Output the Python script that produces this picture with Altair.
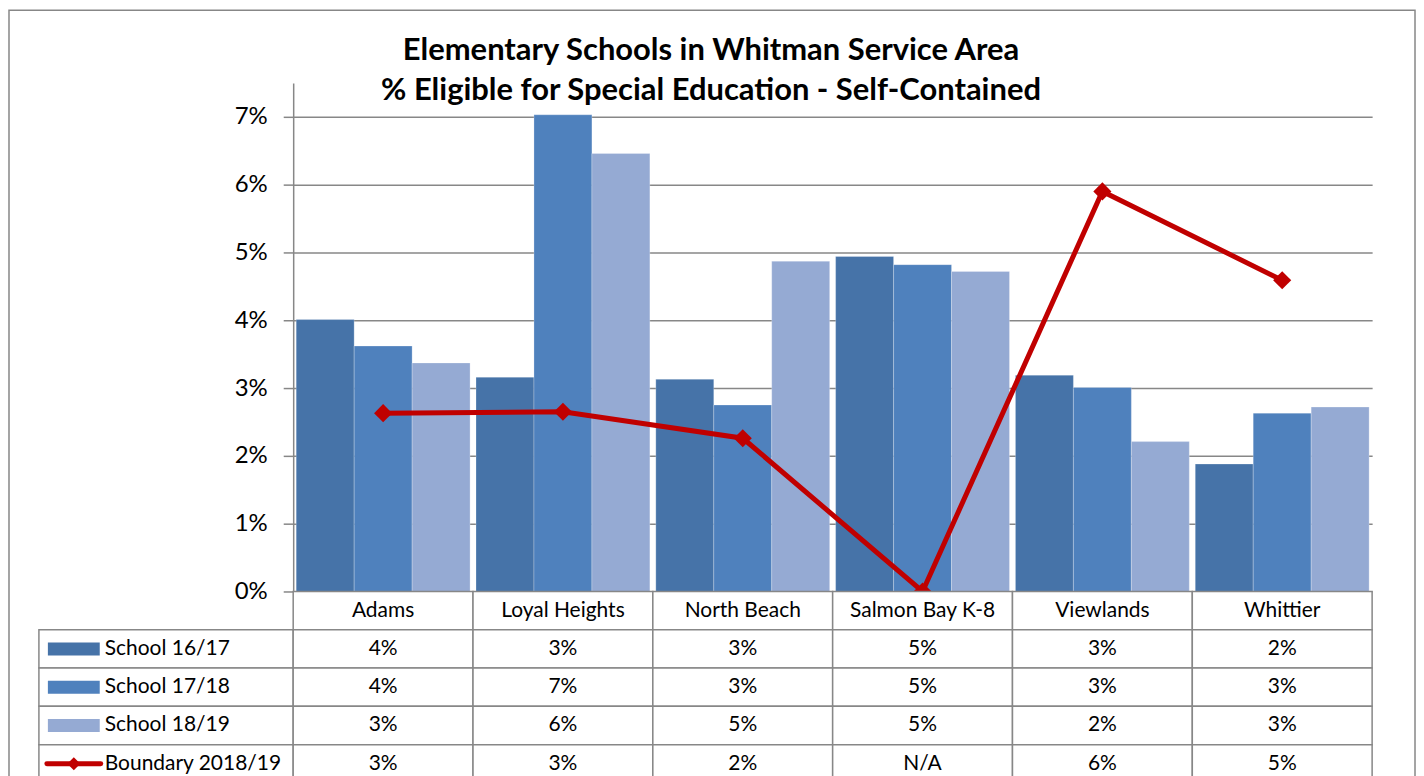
import altair as alt
import pandas as pd

# ---------------- data ----------------
schools = ["Adams", "Loyal Heights", "North Beach", "Salmon Bay K-8", "Viewlands", "Whittier"]
bar_series = ["School 16/17", "School 17/18", "School 18/19"]
line_series = "Boundary 2018/19"

school_1617 = [4.01, 3.16, 3.13, 4.94, 3.19, 1.88]
school_1718 = [3.62, 7.03, 2.75, 4.82, 3.01, 2.63]
school_1819 = [3.37, 6.46, 4.87, 4.72, 2.21, 2.72]
boundary_1819 = [2.63, 2.65, 2.26, None, 5.90, 4.59]   # Salmon Bay is N/A (drawn at 0)

y_tick_pct = [0, 1, 2, 3, 4, 5, 6, 7]
title_lines = ["Elementary Schools in Whitman Service Area",
               "% Eligible for Special Education - Self-Contained"]

bar_colors = ["#4673A8", "#4F81BD", "#95AAD3"]
line_color = "#C00000"
grey = "#878787"
FONT = "Lato"

# ---------------- tables ----------------
bar_rows = []
for s, vals in zip(bar_series, [school_1617, school_1718, school_1819]):
    for sc, v in zip(schools, vals):
        bar_rows.append({"school": sc, "series": s, "value": v / 100})
bars_df = pd.DataFrame(bar_rows)

line_df = pd.DataFrame({
    "school": schools,
    "value": [(v if v is not None else 0) / 100 for v in boundary_1819],
})

row_names = ["header"] + bar_series + [line_series]
table_rows = []
for sc in schools:
    table_rows.append({"school": sc, "row": "header", "text": sc})
for s, vals in zip(bar_series + [line_series],
                   [school_1617, school_1718, school_1819, boundary_1819]):
    for sc, v in zip(schools, vals):
        table_rows.append({"school": sc, "row": s,
                           "text": "N/A" if v is None else f"{round(v):d}%"})
table_df = pd.DataFrame(table_rows)

legend_df = pd.DataFrame({"row": bar_series + [line_series]})
legend_bar_df = pd.DataFrame({"row": bar_series})
legend_line_df = pd.DataFrame({"row": [line_series]})

PLOT_W = 1082
PLOT_H = 510
LEFT_W = 255
TABLE_H = 192

# ---------------- main plot ----------------
x_top = alt.X("school:N", sort=schools,
              scale=alt.Scale(domain=schools, paddingInner=0.033, paddingOuter=0.0167),
              axis=None)
y_top = alt.Y("value:Q",
              scale=alt.Scale(domain=[0, 0.075], nice=False, zero=True),
              axis=alt.Axis(values=[p / 100 for p in y_tick_pct], format=".0%", title=None,
                            grid=True, gridColor=grey, gridWidth=1.5,
                            domainColor=grey, domainWidth=1.5,
                            tickColor=grey, tickWidth=1.5, tickSize=10,
                            labelFont=FONT, labelFontSize=24, labelColor="#000000",
                            labelPadding=16))

bars = alt.Chart(bars_df).mark_bar(stroke="#ffffff", strokeWidth=0.5, strokeOpacity=0.5).encode(
    x=x_top,
    xOffset=alt.XOffset("series:N", sort=bar_series,
                        scale=alt.Scale(domain=bar_series, paddingInner=0, paddingOuter=0)),
    y=y_top,
    color=alt.Color("series:N", scale=alt.Scale(domain=bar_series, range=bar_colors), legend=None),
)
line = alt.Chart(line_df).mark_line(color=line_color, strokeWidth=5).encode(x=x_top, y=y_top)
pts = alt.Chart(line_df).mark_point(shape="diamond", filled=True, size=330, color=line_color,
                                    opacity=1).encode(x=x_top, y=y_top)

top = alt.layer(bars, line, pts).properties(
    width=PLOT_W, height=PLOT_H,
    title=alt.TitleParams(text=title_lines, anchor="middle", frame="group",
                          baseline="bottom", offset=-55, dx=-122, lineHeight=40,
                          font=FONT, fontSize=31, fontWeight="bold", color="#000000"),
)

# ---------------- spacer with outer border ----------------
spacer = alt.Chart(pd.DataFrame({"a": [0]})).mark_rect(
    fill="transparent", stroke=grey, strokeWidth=1.5
).encode(
    x=alt.value(-30), x2=alt.value(1380), y=alt.value(-73), y2=alt.value(725)
).properties(width=LEFT_W, height=PLOT_H)

# ---------------- data table ----------------
x_tab = alt.X("school:N", sort=schools, scale=alt.Scale(domain=schools, paddingInner=0, paddingOuter=0),
              axis=None)
y_tab = alt.Y("row:N", sort=row_names, scale=alt.Scale(domain=row_names, paddingInner=0, paddingOuter=0),
              axis=None)

cells = alt.Chart(table_df).mark_rect(fill="#ffffff", stroke=grey, strokeWidth=1.5).encode(x=x_tab, y=y_tab)
cell_text = alt.Chart(table_df).mark_text(font=FONT, fontSize=21, color="#000000").encode(
    x=x_tab, y=y_tab, text="text:N")
table = alt.layer(cells, cell_text).properties(width=PLOT_W, height=TABLE_H)

# ---------------- legend column ----------------
leg_cells = alt.Chart(legend_df).mark_rect(fill="#ffffff", stroke=grey, strokeWidth=1.5).encode(
    x=alt.value(0), x2=alt.value(LEFT_W), y=y_tab)
leg_bars = alt.Chart(legend_bar_df).mark_rule(strokeWidth=13, strokeCap="butt").encode(
    x=alt.value(9), x2=alt.value(61), y=y_tab,
    color=alt.Color("row:N", scale=alt.Scale(domain=bar_series, range=bar_colors), legend=None))
leg_line = alt.Chart(legend_line_df).mark_rule(strokeWidth=5, color=line_color, strokeCap="round").encode(
    x=alt.value(8), x2=alt.value(62), y=y_tab)
leg_pt = alt.Chart(legend_line_df).mark_point(shape="diamond", filled=True, size=170, color=line_color,
                                              opacity=1).encode(x=alt.value(35), y=y_tab)
leg_text = alt.Chart(legend_df).mark_text(font=FONT, fontSize=21, color="#000000", align="left").encode(
    x=alt.value(66), y=y_tab, text="row:N")
legend_col = alt.layer(leg_cells, leg_bars, leg_line, leg_pt, leg_text).properties(
    width=LEFT_W, height=TABLE_H)

chart = alt.concat(spacer, top, legend_col, table, columns=2, spacing=0,
                   bounds="flush", align="each").properties(
    padding=0, background="#ffffff"
).configure_view(stroke=None).resolve_scale(color="independent", y="independent", x="independent")

chart.save("out.html", embed_options={"renderer": "svg", "actions": False})
